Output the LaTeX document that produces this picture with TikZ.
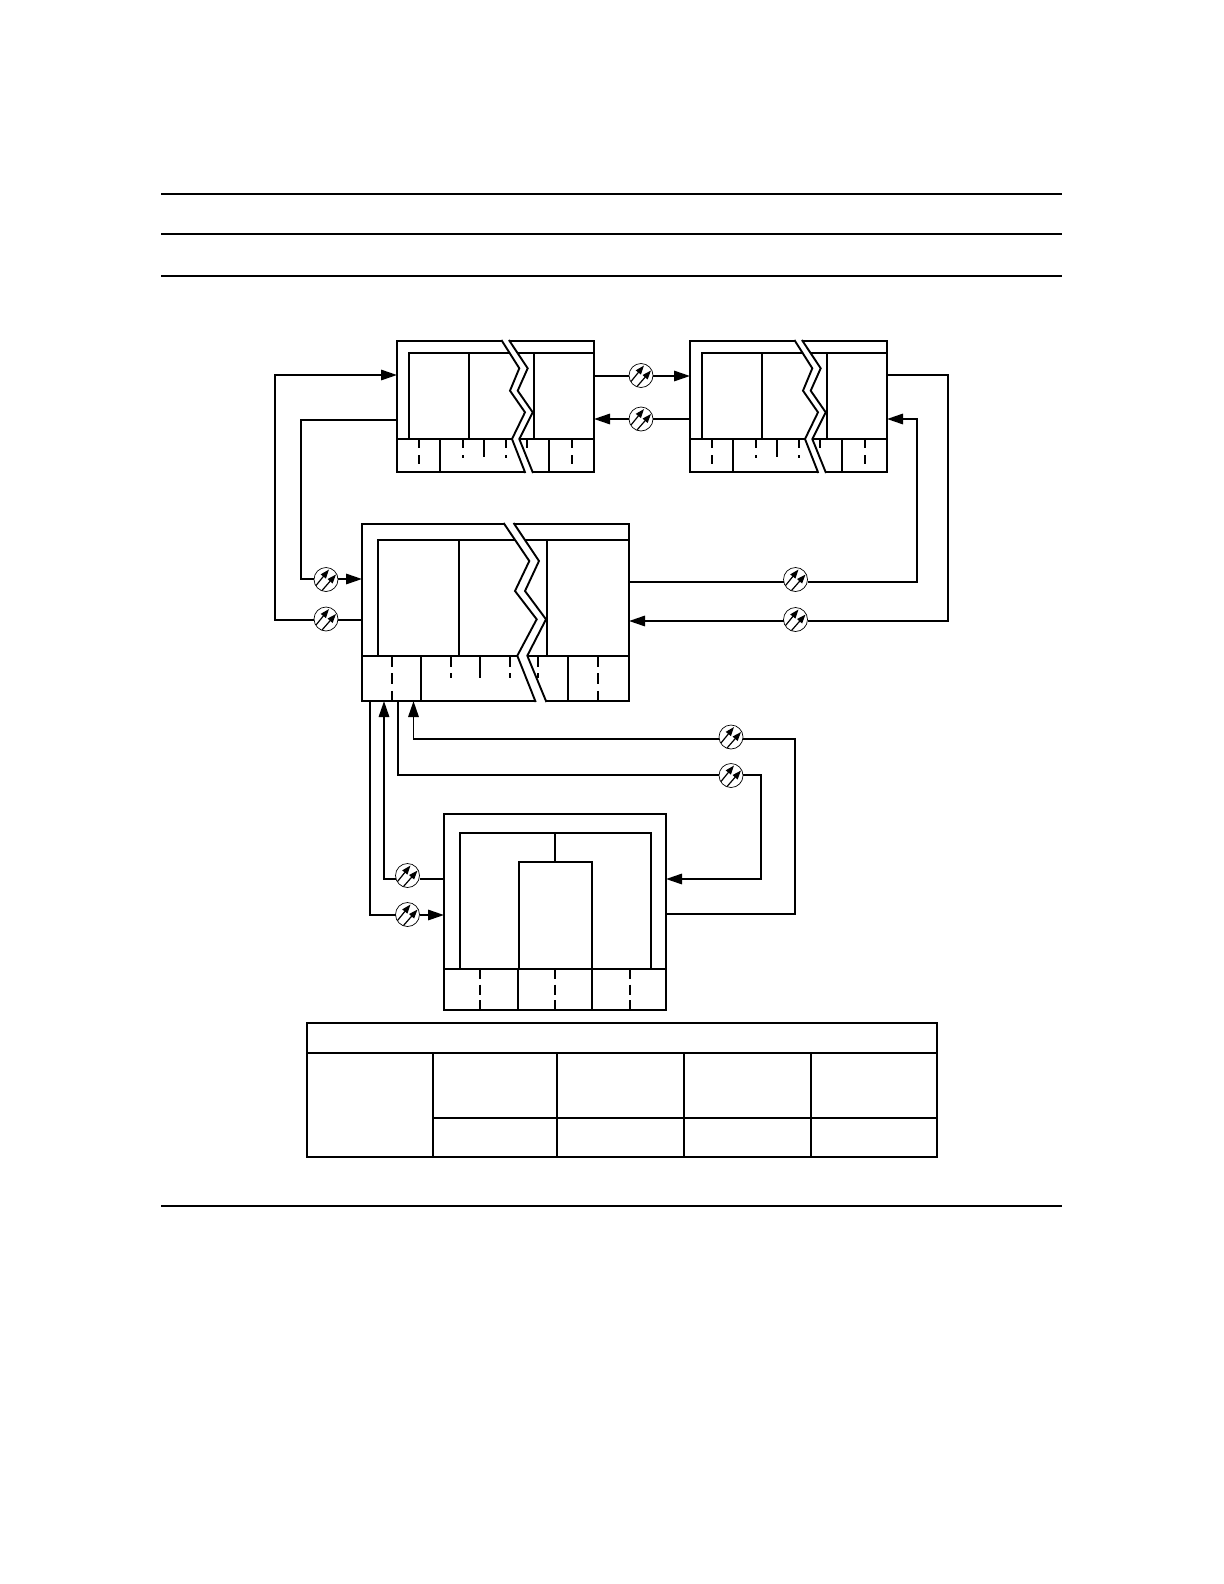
\documentclass[tikz,border=0pt]{standalone}
\usetikzlibrary{arrows.meta}

\begin{document}
\begin{tikzpicture}[
    x=0.5pt, y=-0.5pt,
    line/.style={line width=0.95pt, line join=miter},
    frame/.style={draw, rectangle, line width=0.95pt, inner sep=0pt, outer sep=0pt, anchor=north west},
    dashshort/.style={line, dash pattern=on 4.5pt off 3.5pt},
    dashmid/.style={line, dash pattern=on 5.5pt off 3.2pt},
    dashlow/.style={line, dash pattern=on 5pt off 2.75pt},
    arrow/.style={line, -{Triangle[length=8pt,width=5.2pt]}},
    pump/.style={draw, circle, fill=white, line width=0.35pt, minimum size=12pt, inner sep=0pt, outer sep=0pt},
    pumparrow/.style={line width=0.6pt, -{Triangle[length=4.5pt,width=3.2pt]}}
]
  \useasboundingbox (0,0) rectangle (1224,1584);

  % Page rules
  \foreach \ypos in {194,234,276,1206} {
    \draw [line] (161,\ypos) -- (1062,\ypos);
  }

  % Two upper blocks
  \foreach \name/\dx in {blocka/0, blockb/293} {
    \begin{scope}[shift={(\dx,0)}]
      \node (\name) [frame, minimum width=98.5pt, minimum height=65.5pt] at (397,341) {};
      \draw [line] (409,439) -- (409,353) -- (594,353);
      \draw [line] (397,439) -- (594,439);
      \draw [line] (469,353) -- (469,439);
      \draw [line] (534,353) -- (534,439);
      \draw [line] (440,439) -- (440,472);
      \draw [line] (549,439) -- (549,472);
      \draw [line] (484,439) -- (484,457);
      \draw [dashshort] (419,439) -- (419,472);
      \draw [dashshort] (572,439) -- (572,472);
      \draw [dashshort] (463,439) -- (463,458);
      \draw [dashshort] (506,439) -- (506,458);
      \draw [dashshort] (527,439) -- (527,449);
      % Break
      \fill [white] (501,339) -- (519.3,368.3) -- (510,390.7) -- (525,412.3) -- (512,439) -- (525.6,474)
        -- (533.3,474) -- (519.3,439) -- (532.7,412.3) -- (517.7,390.7) -- (527.7,368.3) -- (508.5,339) -- cycle;
      \draw [line] (501.4,340) -- (519.3,368.3) -- (510,390.7) -- (525,412.3) -- (512,439) -- (525.3,473);
      \draw [line] (508.9,340) -- (527.7,368.3) -- (517.7,390.7) -- (532.7,412.3) -- (519.3,439) -- (533,473);
    \end{scope}
  }

  % Middle block
  \node (blockm) [frame, minimum width=133.5pt, minimum height=88.5pt] at (362,524) {};
  \draw [line] (378,656) -- (378,540) -- (629,540);
  \draw [line] (362,656) -- (629,656);
  \draw [line] (459,540) -- (459,656);
  \draw [line] (547,540) -- (547,656);
  \draw [line] (421,656) -- (421,701);
  \draw [line] (568,656) -- (568,701);
  \draw [line] (480,656) -- (480,678);
  \draw [dashmid] (392,656) -- (392,701);
  \draw [dashmid] (598,656) -- (598,701);
  \draw [dashmid] (451,656) -- (451,678);
  \draw [dashmid] (510,656) -- (510,678);
  \draw [dashmid] (538,656) -- (538,678);
  % Break
  \fill [white] (503,522) -- (529.3,561) -- (515,591) -- (536.7,619.3) -- (517.3,655.7) -- (536,703)
    -- (547,703) -- (527.3,655.7) -- (546,619.3) -- (525,591) -- (539,561) -- (513,522) -- cycle;
  \draw [line] (503.6,523) -- (529.3,561) -- (515,591) -- (536.7,619.3) -- (517.3,655.7) -- (535.7,702);
  \draw [line] (513.6,523) -- (539,561) -- (525,591) -- (546,619.3) -- (527.3,655.7) -- (546.4,702);

  % Lower block
  \node (blockl) [frame, minimum width=111pt, minimum height=98pt] at (444,814) {};
  \draw [line] (460,969) -- (460,833) -- (651,833) -- (651,969);
  \draw [line] (444,969) -- (666,969);
  \draw [line] (555,833) -- (555,862);
  \draw [line] (519,969) -- (519,862) -- (592,862) -- (592,969);
  \draw [line] (518,969) -- (518,1010);
  \draw [line] (592,969) -- (592,1010);
  \draw [dashlow] (480,969) -- (480,1010);
  \draw [dashlow] (555,969) -- (555,1010);
  \draw [dashlow] (630,969) -- (630,1010);

  % Pumps
  \node (pumpab) [pump] at (641,375.5) {};
  \node (pumpba) [pump] at (641,419) {};
  \node (pumpam) [pump] at (326,579.5) {};
  \node (pumpma) [pump] at (326,619) {};
  \node (pumpmb) [pump] at (795.5,579.5) {};
  \node (pumpbm) [pump] at (795.5,619.5) {};
  \node (pumpml) [pump] at (731,775.5) {};
  \node (pumplm) [pump] at (731,737) {};
  \node (pumpup) [pump] at (407.5,875.5) {};
  \node (pumpdn) [pump] at (407.5,914.5) {};
  \foreach \p in {pumpab,pumpba,pumpam,pumpma,pumpmb,pumpbm,pumpml,pumplm,pumpup,pumpdn} {
    \draw [pumparrow] ([shift={(-10,6)}]\p.center) -- ([shift={(3,-10)}]\p.center);
    \draw [pumparrow] ([shift={(-4,11)}]\p.center) -- ([shift={(10,-5)}]\p.center);
  }

  % Connectors
  \draw [line] (blocka.east |- 0,376) -- (pumpab.west |- 0,376);
  \draw [arrow] (pumpab.east |- 0,376) -- (blockb.west |- 0,376);
  \draw [line] (blockb.west |- 0,419) -- (pumpba.east |- 0,419);
  \draw [arrow] (pumpba.west |- 0,419) -- (blocka.east |- 0,419);

  \draw [line] (blocka.west |- 0,420) -- (301,420) -- (301,579) -- (pumpam.west |- 0,579);
  \draw [arrow] (pumpam.east |- 0,579) -- (blockm.west |- 0,579);
  \draw [line] (blockm.west |- 0,620) -- (pumpma.east |- 0,620);
  \draw [arrow] (pumpma.west |- 0,620) -- (275,620) -- (275,375) -- (blocka.west |- 0,375);

  \draw [line] (blockm.east |- 0,582) -- (pumpmb.west |- 0,582);
  \draw [arrow] (pumpmb.east |- 0,582) -- (917,582) -- (917,419) -- (blockb.east |- 0,419);
  \draw [line] (blockb.east |- 0,375) -- (948,375) -- (948,621) -- (pumpbm.east |- 0,621);
  \draw [arrow] (pumpbm.west |- 0,621) -- (blockm.east |- 0,621);

  \draw [line] (blockm.south -| 398,0) -- (398,775) -- (pumpml.west |- 0,775);
  \draw [arrow] (pumpml.east |- 0,775) -- (761,775) -- (761,879) -- (blockl.east |- 0,879);
  \draw [line] (blockl.east |- 0,914) -- (795,914) -- (795,739) -- (pumplm.east |- 0,739);
  \draw [arrow] (pumplm.west |- 0,739) -- (413.5,739) -- (blockm.south -| 413.5,0);

  \draw [line] (blockl.west |- 0,879) -- (pumpup.east |- 0,879);
  \draw [arrow] (pumpup.west |- 0,879) -- (384,879) -- (blockm.south -| 384,0);
  \draw [line] (blockm.south -| 370,0) -- (370,915) -- (pumpdn.west |- 0,915);
  \draw [arrow] (pumpdn.east |- 0,915) -- (blockl.west |- 0,915);

  % Table
  \draw [line] (307,1023) rectangle (937,1157);
  \draw [line] (307,1053) -- (937,1053);
  \draw [line] (433,1118) -- (937,1118);
  \foreach \xpos in {433,557,684,811} {
    \draw [line] (\xpos,1053) -- (\xpos,1157);
  }
\end{tikzpicture}
\end{document}
